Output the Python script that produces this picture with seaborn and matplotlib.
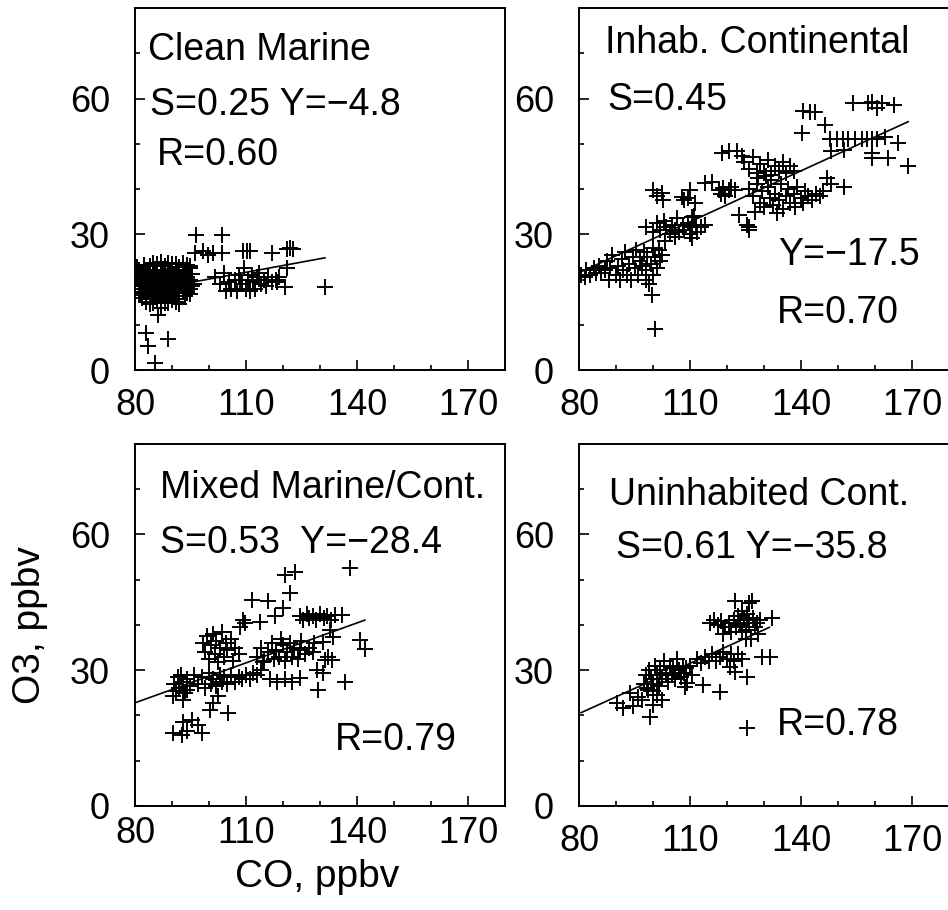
import matplotlib
matplotlib.use("Agg")
import matplotlib.pyplot as plt
import seaborn as sns
import pandas as pd
from matplotlib.ticker import MultipleLocator, FixedLocator

# panel names and the text printed inside each panel
regimes = ["Clean Marine", "Inhab. Continental", "Mixed Marine/Cont.", "Uninhabited Cont."]
stats_text = [
    ["S=0.25 Y=\u22124.8", "R=0.60"],
    ["S=0.45", "Y=\u221217.5", "R=0.70"],
    ["S=0.53  Y=\u221228.4", "R=0.79"],
    ["S=0.61 Y=\u221235.8", "R=0.78"],
]
co_ticks = [80, 110, 140, 170]
o3_ticks = [0, 30, 60]

# (CO, O3) pairs, ppbv
clean_marine = [
    (84, 23), (86, 23.5), (88, 23), (90, 23.5), (92, 22.8), (94, 23.2),
    (81, 22), (83, 21.8), (85, 22.2), (87, 22), (89, 22.3), (91, 21.8), (93, 22), (95, 22.5),
    (80.5, 21), (82, 21.2), (84, 20.8), (86, 21), (88, 21.3), (90, 20.9), (92, 21), (94, 21.2),
    (81, 20), (83, 20.2), (85, 19.8), (87, 20), (89, 20.3), (91, 19.9), (93, 20.1), (95, 20),
    (80, 19), (82, 19.2), (84, 18.8), (86, 19), (88, 19.3), (90, 18.9), (92, 19), (94, 19.3), (96, 19),
    (81, 18), (83, 18.3), (85, 17.8), (87, 18), (89, 18.2), (91, 17.9), (93, 18), (95, 17.8),
    (81, 17), (82.5, 17.2), (84, 16.8), (86, 17), (88, 17.3), (90, 16.9), (92, 17), (94, 17.1),
    (82, 16), (84, 15.8), (86, 16.2), (88, 15.9), (90, 16), (92, 15.7), (93.5, 16.3),
    (83, 15), (85, 14.8), (87, 15.2), (89, 14.9), (91, 15),
    (82, 20.5), (85, 20.6), (88, 20.4), (91, 20.6), (83.5, 17.6), (86.5, 17.7), (89.5, 17.5),
    (84.5, 19.5), (87.5, 19.6), (90.5, 19.4), (93, 18.7), (82.5, 18.6), (85.5, 16.5), (88.5, 16.6),
    (80.5, 22.8), (82.5, 23.3), (85, 23.6), (87, 23.8), (89, 23.6), (91, 23.4), (93, 23.6), (95, 23),
    (81.5, 21.5), (83.5, 21.4), (85.5, 21.5), (87.5, 21.6), (89.5, 21.5), (91.5, 21.4), (93.5, 21.6),
    (95.5, 21.3), (80.5, 20.3), (82.5, 19.7), (84.5, 20.2), (86.5, 19.6), (88.5, 19.8), (90.5, 20.4),
    (92.5, 19.5), (94.5, 19.7), (81.5, 18.5), (83.5, 18.9), (85.5, 18.4), (87.5, 18.6), (89.5, 18.7),
    (91.5, 18.4), (93.5, 18.3), (95.5, 18.6), (81.5, 16.5), (83, 16.3), (85, 17.3), (87, 16.5),
    (89, 17.6), (91, 16.4), (93, 17.5), (95, 16.8), (84, 14.5), (86, 15.5), (88, 14.7), (90, 15.4),
    (92, 14.6), (87, 13.8),
    (86.3, 12.2), (82.9, 8.1), (83.6, 5.2), (89, 6.8), (85.4, 1.6),
    (96.4, 29.8), (103.6, 29.8), (96.2, 25.8), (98.5, 26.2), (99.8, 25.4), (101.2, 25.8), (103.4, 25.8),
    (109.3, 26.2), (110.2, 26.2), (111.1, 26.2), (117, 25.8), (121, 26.7), (121.9, 26.9), (122.8, 26.7),
    (121, 22.5), (120.5, 18.4), (131.4, 18.4),
    (101.5, 20.5), (103, 19), (104, 21.5), (104.5, 17.5), (105.5, 19.5), (106, 18), (107, 20),
    (107.5, 17.5), (108, 21), (109, 19), (109.5, 22.5), (110, 18), (110.5, 20), (111, 17.5),
    (111.5, 21), (112, 19.5), (112.5, 18), (113, 20.5), (113.5, 21.5), (114, 19), (115, 20),
    (115.5, 18.5), (116, 20.5), (117, 19.5), (118, 20), (119, 20.5), (118.5, 19.5), (108.5, 19.8),
]

inhab_cont = [
    (80.5, 21), (81.5, 20.5), (82, 22), (83, 21), (84, 22.5), (84.5, 21.5), (85.5, 23), (86, 21.5),
    (87, 22), (87.5, 24), (88, 20), (88.5, 22.5), (89, 25.5), (90, 21), (90.5, 23), (91, 20),
    (91.5, 24.5), (92, 22), (92.5, 26), (93, 21), (93.5, 23.5), (94, 20), (94.5, 25), (95, 22.5),
    (95.5, 26.5), (96, 21), (96.5, 24), (97, 23), (97.5, 26), (98, 20), (98, 22), (98.5, 25),
    (99, 19), (99.5, 23.5), (100, 21), (100, 27), (100.5, 25), (101, 22.5), (101.5, 26.5),
    (102, 24), (102.5, 25.5), (100.5, 9.0), (99.8, 16.6),
    (98, 31.5), (100, 30.5), (101, 32.5), (102, 31), (103, 33), (103.5, 31.5), (104.5, 30),
    (105, 32), (106, 31), (106.5, 33.5), (107, 30.5), (108, 32), (108.5, 31), (109.5, 32.5),
    (110, 30), (110.5, 31.5), (111, 34), (111.5, 32), (112, 30.5), (113, 31.5), (114, 32),
    (103.2, 28.4), (105.9, 29.5), (110.5, 29.2), (110.5, 33.9),
    (100.1, 39.8), (102.4, 39.1), (102.8, 37.6), (101, 38.5), (107.8, 38.3), (109.5, 38),
    (110, 39.8), (111.4, 36.9), (108.5, 37.5),
    (114.1, 41.3), (115.9, 41.6), (117.7, 39.8), (119, 40.2), (120.4, 39.8), (122.2, 39.8),
    (118.5, 39), (121, 40.5), (119.5, 38.5),
    (118.6, 47.9), (120.4, 48.3), (122.6, 48.3), (124, 47.2), (123.1, 34.3), (125.8, 31),
    (126, 31.5), (125.5, 32),
    (124.5, 46), (126, 44.5), (127, 47), (128, 43.5), (129, 45.5), (130, 44), (131, 46.5),
    (132, 43), (133, 45), (134, 44), (135, 46), (136, 43.5), (137, 45), (138, 44),
    (126, 40), (127, 38.5), (128, 41), (129, 37), (129.5, 39.5), (130, 36), (131, 40.5),
    (131.5, 38), (132, 42), (132.5, 36.5), (133, 39), (134, 37.5), (134.5, 41), (135, 35.5),
    (136, 38.5), (136.5, 40), (137, 37), (138, 39), (138.5, 36), (139, 40.5), (140, 38),
    (140.5, 37), (141, 39.5), (142, 38.5), (143, 37.5), (144, 39), (145, 38.5), (146, 39.5),
    (127.5, 35), (133.5, 34.8), (128.5, 42.5), (130.5, 42.8),
    (147, 42.4), (151.5, 40.4), (148, 41),
    (140.2, 52.3), (140.6, 57.3), (142.4, 57.1), (143.8, 57.1), (146.5, 54.2),
    (147.8, 51), (149.7, 51), (151.4, 51), (152.8, 51), (154.6, 51), (156.4, 51), (157.8, 51),
    (159.1, 51), (160.5, 51), (148.1, 48.3), (151.5, 48.6),
    (154.1, 59), (158.2, 59), (159.1, 59.3), (160.5, 57.9), (161.8, 59), (165, 58.6),
    (159.2, 47.9), (159.2, 46.8), (162.7, 51.6), (163.6, 46.8), (166.3, 50.1), (169, 45),
]

mixed = [
    (93.1, 18.6), (95.3, 19), (97.1, 17.9), (90.4, 16.1), (92.6, 15.7), (98, 16.1), (94, 16.5),
    (90.4, 24.2), (93.1, 23.4), (94, 25.6), (101.2, 22.7), (105.2, 20.5), (102.5, 24.2), (100.3, 21.2),
    (90.5, 27), (91, 25.5), (91.5, 28.5), (92, 26), (92.5, 29), (93, 27.5), (93.5, 25), (94, 28),
    (95, 26.5), (96, 29), (97, 27), (98, 28.5), (99, 26), (100, 29.5), (100.5, 27), (101, 28),
    (102, 26.5), (103, 29), (103.5, 27.5), (104, 28.5), (105, 27), (106, 29), (107, 27.5),
    (108, 28.5), (109, 28), (110, 29), (111, 28), (112, 29.5), (113, 29), (114, 30),
    (98.5, 36), (99, 34), (99.5, 37.5), (100, 32.5), (100.5, 35.5), (101, 38), (101.5, 33.5),
    (102, 36.5), (102.5, 31.8), (103, 35), (103.5, 38.5), (104, 33), (104.5, 36), (105, 34.5),
    (106, 37), (106.5, 32), (107, 35), (108, 33.5),
    (111.5, 45.5), (116, 45.2), (120.1, 43.7), (117.8, 41.9), (113.8, 40.7), (109.3, 41.1),
    (108.4, 39.6), (109.7, 40.4), (121.9, 47), (120.5, 51.1), (123.2, 51.8), (138.1, 52.6),
    (124.5, 42), (125.5, 41), (126.5, 42.5), (127, 41.5), (128, 42), (129, 41), (130, 42.5),
    (131, 41.5), (132, 42), (133, 41), (134, 42.3), (135.9, 42.3),
    (132.7, 38.9), (133.6, 37.4), (130.9, 36.3), (132.2, 33), (131.4, 32.3), (133.2, 32.3),
    (140.8, 36.7), (142.2, 34.6), (136.8, 27.5), (129.5, 25.6), (130.9, 29.3), (129.1, 30.1),
    (113, 33), (114, 35), (115, 32), (116, 34), (117, 36), (117.5, 32.5), (118, 34.5), (119, 33),
    (120, 35.5), (120.5, 32), (121, 34), (122, 36), (122.5, 33), (123, 35), (124, 32.5),
    (124.5, 34.5), (125, 36.5), (126, 33.5), (127, 35), (128, 34), (128.5, 36), (114.5, 31.8),
    (119.5, 37),
    (116.5, 28), (118.5, 27.5), (120.5, 28), (122.5, 27.3), (124.5, 28.2),
]

uninhab = [
    (125.3, 17.2), (122.2, 45.2), (125.8, 44.8), (126.7, 45.2), (132.1, 41.5),
    (115.5, 40.5), (116.5, 41), (117.5, 40), (118.5, 40.8), (119.5, 39.5), (120.5, 40.5),
    (121, 38.5), (122, 41), (122.5, 39.5), (123, 42), (123.5, 40), (124, 43), (124.5, 41),
    (125, 39), (125.5, 42.5), (126, 40.5), (126.5, 37), (127, 41.5), (127.5, 39.5), (128, 40.5),
    (128.5, 38), (129, 41), (125, 36.8), (124, 38.5), (119, 38),
    (129.4, 33), (131.6, 33), (120.8, 30.8), (122.2, 29.7), (125.3, 28.6), (118.1, 25.3),
    (113.6, 26.8), (109.1, 27.1), (108.6, 26.4),
    (112, 32.5), (113, 31.5), (114, 33), (115, 32), (116, 33.5), (117, 32), (118, 33), (119, 34),
    (120, 32.5), (121, 33.5), (122, 32), (123, 33.5), (124, 32.5),
    (97.5, 27), (98, 29), (98.5, 26), (99, 30), (99.5, 28), (100, 27), (100.5, 31), (101, 29),
    (101.5, 26.5), (102, 30), (102.5, 28), (103, 32), (103.5, 29.5), (104, 27.5), (104.5, 31),
    (105, 29), (105.5, 30.5), (106, 28), (106.5, 32.5), (107, 30), (107.5, 28.5), (108, 31),
    (108.5, 29.5), (109, 30.5), (110, 31), (110.5, 29), (101, 24.5), (102.5, 23.5), (100, 25.5),
    (90.2, 22.7), (92, 21.6), (94.7, 22), (99.2, 19.7), (97, 23.4), (99.9, 22.3), (93.8, 24.9),
    (98.7, 25.6), (96, 24),
]

# end points of the fitted lines
fit_co = [[80, 131.4], [80, 169.0], [80, 142.2], [80.5, 131.5]]
fit_o3 = [[17.1, 24.8], [21.5, 54.9], [22.8, 41.1], [20.6, 39.5]]

# layout
axes_rects = [
    [0.1424, 0.5934, 0.3903, 0.3978],
    [0.6108, 0.5934, 0.3903, 0.3978],
    [0.1424, 0.1143, 0.3903, 0.3978],
    [0.6108, 0.1143, 0.3903, 0.3978],
]
title_pos = [(83.5, 68.5), (87, 70), (86.8, 68.1), (88.1, 66.5)]
stats_pos = [
    [(84, 56.4), (86, 45.3)],
    [(87.6, 57.5), (133.8, 23.2), (133.5, 10.4)],
    [(86.8, 55.9), (134, 12.4)],
    [(90, 54.8), (133.5, 15.7)],
]
xpads = [13, 13, 7, 13]

sns.set_theme(style="ticks")
plt.rcParams['font.family'] = ['Liberation Sans', 'DejaVu Sans']
plt.rcParams['text.color'] = 'black'

fig = plt.figure(figsize=(9.48, 9.10), dpi=100)
datasets = [clean_marine, inhab_cont, mixed, uninhab]

for i, pts in enumerate(datasets):
    ax = fig.add_axes(axes_rects[i])
    df = pd.DataFrame(pts, columns=["co", "o3"])
    sns.scatterplot(data=df, x="co", y="o3", marker="+", color="black",
                    s=130, linewidth=1.4, ax=ax, legend=False)
    sns.lineplot(x=fit_co[i], y=fit_o3[i], color="black", linewidth=1.2, ax=ax)

    ax.set_xlim(80, 180)
    ax.set_ylim(0, 80)
    ax.xaxis.set_major_locator(FixedLocator(co_ticks))
    ax.xaxis.set_minor_locator(MultipleLocator(10))
    ax.yaxis.set_major_locator(FixedLocator(o3_ticks))
    ax.yaxis.set_minor_locator(MultipleLocator(10))
    ax.tick_params(which="both", direction="in", colors="black", width=1.2,
                   labelsize=26)
    ax.tick_params(which="major", length=7)
    ax.tick_params(which="minor", length=3.5)
    ax.tick_params(axis="y", pad=18)
    ax.tick_params(axis="x", pad=xpads[i])
    for sp in ax.spines.values():
        sp.set_visible(True)
        sp.set_linewidth(1.4)
        sp.set_color("black")
    ax.set_xlabel("")
    ax.set_ylabel("")

    ax.text(*title_pos[i], regimes[i], fontsize=27, color="black",
            ha="left", va="baseline")
    for txt, pos in zip(stats_text[i], stats_pos[i]):
        ax.text(*pos, txt, fontsize=27, color="black", ha="left", va="baseline")

fig.text(30 / 948, 1 - 625 / 910, "O3, ppbv", rotation=90, fontsize=28,
         color="black", ha="center", va="center")
fig.text(317 / 948, 1 - 877 / 910, "CO, ppbv", fontsize=28,
         color="black", ha="center", va="center")

fig.savefig("out.png", dpi=100, facecolor="white")
